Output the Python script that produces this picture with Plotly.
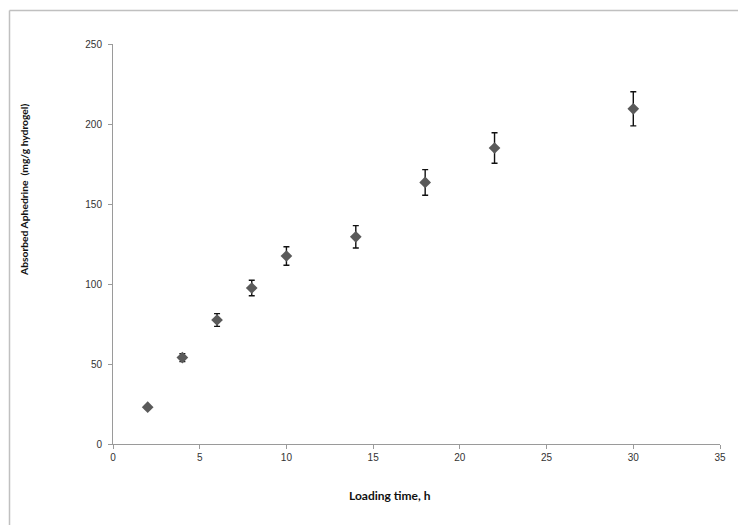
import plotly.graph_objects as go

time_h = [2, 4, 6, 8, 10, 14, 18, 22, 30]
absorbed = [23, 54, 77.5, 97.5, 117.5, 129.5, 163.5, 185, 209.5]
err = [1, 2.5, 4, 4.8, 5.8, 7, 8, 9.5, 10.7]

x_ticks = [0, 5, 10, 15, 20, 25, 30, 35]
y_ticks = [0, 50, 100, 150, 200, 250]

# page body has an 8px default margin; positions below are in figure pixels
L, T, W, H = 105, 36, 607, 400

def px(xp):
    return (xp - L) / W

def py(yp):
    return (T + H - yp) / H

fig = go.Figure()
fig.add_trace(go.Scatter(
    x=time_h, y=absorbed, mode="markers",
    marker=dict(symbol="diamond", size=9, color="#5a5a5a"),
    error_y=dict(type="data", array=err, visible=True, color="#111111", thickness=1.4, width=3),
    showlegend=False,
))

axis_common = dict(showgrid=False, zeroline=False, showline=True, linecolor="#9a9a9a", linewidth=1,
                   ticks="outside", ticklen=4, tickcolor="#9a9a9a",
                   tickfont=dict(family="Liberation Sans, Arial", size=10, color="#333333"))
fig.update_xaxes(range=[0, 35], tickvals=x_ticks, **axis_common)
fig.update_yaxes(range=[0, 250], tickvals=y_ticks, ticklabelstandoff=4, **axis_common)

fig.add_annotation(text="<b>Loading time, h</b>", xref="paper", yref="paper",
                   x=px(382), y=py(488), xanchor="center", yanchor="middle", showarrow=False,
                   font=dict(family="Lato, Open Sans", size=12, color="#111111"))
fig.add_annotation(text="<b>Absorbed Aphedrine  (mg/g hydrogel)</b>", xref="paper", yref="paper",
                   x=px(16), y=py(182), xanchor="center", yanchor="middle", showarrow=False,
                   textangle=-90,
                   font=dict(family="Lato, Open Sans", size=10.3, color="#111111"))

border = dict(type="line", xref="paper", yref="paper", line=dict(color="#c0c0c0", width=1.5))
fig.add_shape(x0=px(1.5), x1=px(746), y0=py(2.5), y1=py(2.5), **border)
fig.add_shape(x0=px(1.5), x1=px(1.5), y0=py(2.5), y1=py(525), **border)

fig.update_layout(width=746, height=525, margin=dict(l=L, r=746 - L - W, t=T, b=525 - T - H),
                  plot_bgcolor="white", paper_bgcolor="white")
fig.write_html("out.html")
